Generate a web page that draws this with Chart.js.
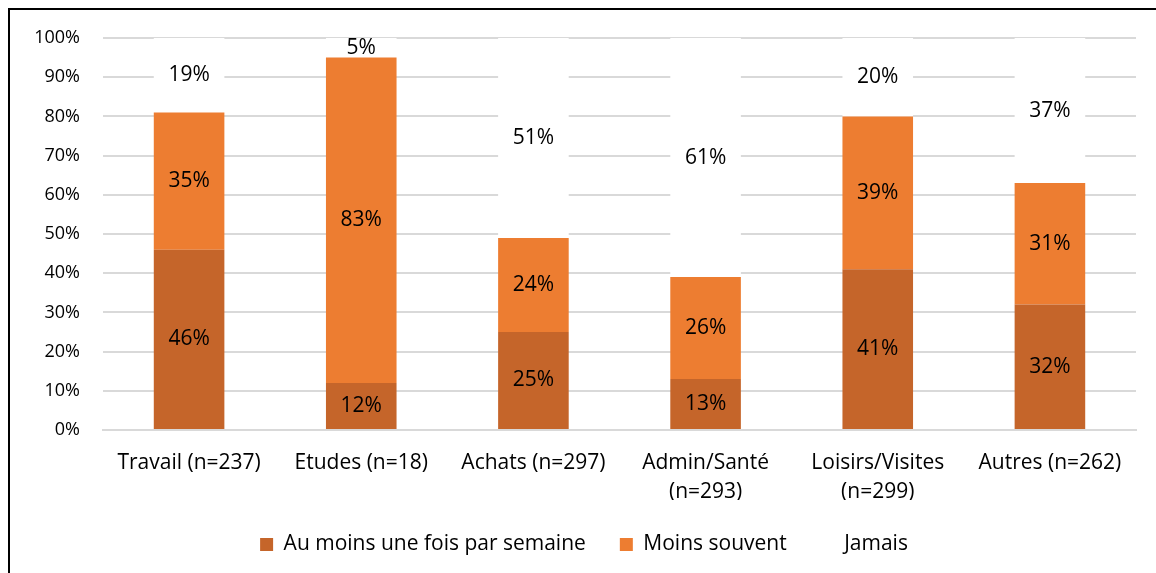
<!DOCTYPE html>
<html>
<head>
<meta charset="utf-8">
<script src="https://cdn.jsdelivr.net/npm/chart.js@4"></script>
<style>
  html, body { margin: 0; padding: 0; background: #fff; overflow: hidden; }
  #wrap { position: relative; width: 1156px; height: 573px; }
  #frame {
    position: absolute; left: 8px; top: 8px; width: 1200px; height: 600px;
    border-left: 2px solid #000; border-top: 2px solid #000;
  }
  #chart { position: absolute; left: 0; top: 0; }
</style>
</head>
<body>
<div id="wrap">
  <div id="frame"></div>
  <canvas id="chart" width="1156" height="573"></canvas>
</div>
<script>
// motifs de déplacement
const categories = [
  'Travail (n=237)',
  'Etudes (n=18)',
  'Achats (n=297)',
  ['Admin/Santé', '(n=293)'],
  ['Loisirs/Visites', '(n=299)'],
  'Autres (n=262)',
];

const seriesNames   = ['Au moins une fois par semaine', 'Moins souvent', 'Jamais'];
const auMoinsSemaine = [46, 12, 25, 13, 41, 32];
const moinsSouvent   = [35, 83, 24, 26, 39, 31];
const jamais         = [19, 5, 51, 61, 20, 37];

const yTicks = [0, 10, 20, 30, 40, 50, 60, 70, 80, 90, 100];

const FONT = '"Open Sans", sans-serif';

/* ── étiquettes de valeurs au centre des barres ── */
const valueLabels = {
  id: 'valueLabels',
  afterDatasetsDraw(chart) {
    const ctx = chart.ctx;
    ctx.save();
    ctx.font = `21px ${FONT}`;
    ctx.fillStyle = '#000';
    ctx.textAlign = 'center';
    ctx.textBaseline = 'middle';
    chart.data.datasets.forEach((ds, i) => {
      const meta = chart.getDatasetMeta(i);
      meta.data.forEach((bar, j) => {
        const y = (bar.y + bar.base) / 2;
        ctx.fillText(ds.data[j] + '%', bar.x, y);
      });
    });
    ctx.restore();
  },
};

new Chart(document.getElementById('chart'), {
  type: 'bar',
  data: {
    labels: categories,
    datasets: [
      { label: seriesNames[0], data: auMoinsSemaine, backgroundColor: '#C5652A' },
      { label: seriesNames[1], data: moinsSouvent,   backgroundColor: '#ED7D31' },
      { label: seriesNames[2], data: jamais,         backgroundColor: '#FFFFFF' },
    ],
  },
  options: {
    responsive: false,
    animation: false,
    devicePixelRatio: 1,
    barPercentage: 0.41,
    categoryPercentage: 1,
    layout: { padding: { top: 38, right: 20, bottom: 8, left: 32 } },
    plugins: {
      tooltip: { enabled: false },
      legend: {
        position: 'bottom',
        labels: {
          color: '#000',
          font: { family: FONT, size: 21 },
          boxWidth: 13,
          boxHeight: 13,
          padding: 34,
        },
      },
    },
    scales: {
      x: {
        stacked: true,
        afterFit(scale) { scale.height = 70; },
        grid: { display: false },
        border: { display: true, color: '#d9d9d9', width: 2 },
        ticks: {
          color: '#000',
          font: { family: FONT, size: 21, lineHeight: 1.4 },
          padding: 10,
          maxRotation: 0,
          autoSkip: false,
        },
      },
      y: {
        stacked: true,
        min: 0,
        max: 100,
        afterBuildTicks(scale) { scale.ticks = yTicks.map(v => ({ value: v })); },
        afterFit(scale) { scale.width = 71; },
        grid: { color: '#d9d9d9', lineWidth: 2, drawTicks: false },
        border: { display: false },
        ticks: {
          color: '#000',
          font: { family: FONT, size: 18 },
          padding: 23,
          callback: v => v + '%',
        },
      },
    },
  },
  plugins: [valueLabels],
});
</script>
</body>
</html>
